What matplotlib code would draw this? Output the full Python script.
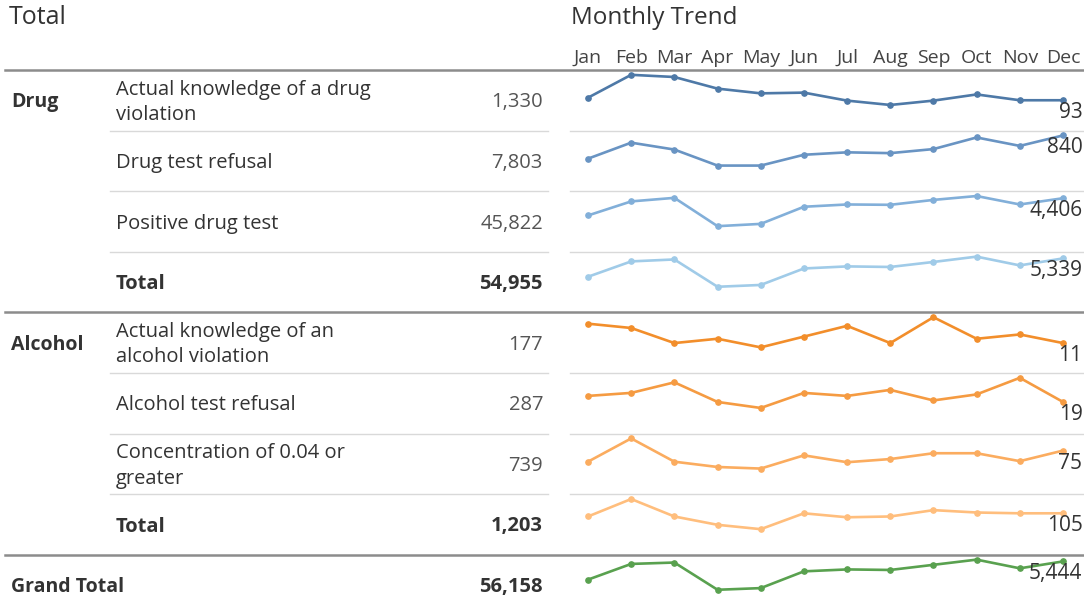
import matplotlib.pyplot as plt
import numpy as np

plt.rcParams['font.family'] = ['Open Sans', 'DejaVu Sans']

# data
months = ['Jan', 'Feb', 'Mar', 'Apr', 'May', 'Jun', 'Jul', 'Aug', 'Sep', 'Oct', 'Nov', 'Dec']

drug_labels = ['Actual knowledge of a drug\nviolation', 'Drug test refusal', 'Positive drug test']
drug_knowledge = [100, 163, 157, 125, 112, 114, 92, 80, 92, 109, 93, 93]
drug_refusal = [554, 751, 666, 469, 469, 602, 632, 622, 672, 815, 711, 840]
drug_positive = [3200, 4184, 4432, 2450, 2610, 3809, 3969, 3945, 4288, 4560, 3969, 4406]

alcohol_labels = ['Actual knowledge of an\nalcohol violation', 'Alcohol test refusal',
                  'Concentration of 0.04 or\ngreater']
alcohol_knowledge = [20, 18, 11, 13, 9, 14, 19, 11, 23, 13, 15, 11]
alcohol_refusal = [23, 25, 32, 19, 15, 25, 23, 27, 20, 24, 35, 19]
alcohol_conc = [54, 98, 54, 44, 41, 66, 53, 59, 70, 70, 55, 75]

drug_colors = ['#4e79a7', '#6994c3', '#82afd9', '#a0cbe8']
alcohol_colors = ['#f28e2b', '#f59b42', '#fbac5f', '#ffbe7d']
grand_color = '#59a14f'

drug_series = [np.array(drug_knowledge), np.array(drug_refusal), np.array(drug_positive)]
alcohol_series = [np.array(alcohol_knowledge), np.array(alcohol_refusal), np.array(alcohol_conc)]
drug_total = sum(drug_series)
alcohol_total = sum(alcohol_series)
grand_total = drug_total + alcohol_total

# rows: (group label, row label, series, color, bold)
rows = []
for i, s in enumerate(drug_series):
    rows.append(('Drug' if i == 0 else '', drug_labels[i], s, drug_colors[i], False))
rows.append(('', 'Total', drug_total, drug_colors[3], True))
for i, s in enumerate(alcohol_series):
    rows.append(('Alcohol' if i == 0 else '', alcohol_labels[i], s, alcohol_colors[i], False))
rows.append(('', 'Total', alcohol_total, alcohol_colors[3], True))
rows.append(('Grand Total', '', grand_total, grand_color, True))

W, H = 1084, 613
fig = plt.figure(figsize=(W / 100, H / 100), dpi=100)
bg = fig.add_axes([0, 0, 1, 1])
bg.set_xlim(0, W)
bg.set_ylim(H, 0)
bg.axis('off')

dark = '#333333'
fs = 14.5
fs_num = 14

bg.text(9, 18, 'Total', fontsize=18, color=dark, va='center', ha='left')
bg.text(571, 18, 'Monthly Trend', fontsize=17.5, color=dark, va='center', ha='left')

x0, x1 = 588, 1063
mx = np.linspace(x0, x1, 12)
for m, x in zip(months, mx):
    bg.text(x, 58, m, fontsize=14, color='#444444', ha='center', va='center')

top = 70
rh = 60.6
bg.plot([5, W], [top, top], color='#8c8c8c', lw=1.8)

for r, (grp, lab, series, col, bold) in enumerate(rows):
    yt = top + r * rh
    yc = yt + rh / 2 + 2
    yb = yt + rh
    weight = 'bold' if bold else 'normal'
    if grp:
        bg.text(11, yc, grp, fontsize=fs_num, fontweight='bold', color=dark, va='center')
    if lab:
        bg.text(116, yc, lab, fontsize=fs, fontweight=weight, color=dark, va='center',
                linespacing=1.35)
    bg.text(543, yc, f'{int(series.sum()):,}', fontsize=fs, fontweight=weight,
            color=dark if bold else '#555555', ha='right', va='center')

    # separators
    if r in (3, 7):
        bg.plot([5, W], [yb, yb], color='#8c8c8c', lw=1.8)
    elif r < 8:
        bg.plot([110, 548], [yb, yb], color='#d9d9d9', lw=1)
        bg.plot([570, W], [yb, yb], color='#d9d9d9', lw=1)

    # sparkline
    ax = fig.add_axes([x0 / W, 1 - yb / H, (x1 - x0) / W, rh / H])
    ax.axis('off')
    lo, hi = series.min(), series.max()
    rng = hi - lo
    ax.set_ylim(lo - 0.85 * rng, hi + 0.16 * rng)
    ax.set_xlim(0, 11)
    xs = np.arange(12)
    ax.plot(xs, series, color=col, lw=1.9, marker='o', markersize=3.8, clip_on=False)
    ax.annotate(f'{int(series[-1]):,}', (11, series[-1]), xytext=(14, -9),
                textcoords='offset points', ha='right', va='center',
                fontsize=15, color=dark, annotation_clip=False)

fig.savefig('out.png', dpi=100)
